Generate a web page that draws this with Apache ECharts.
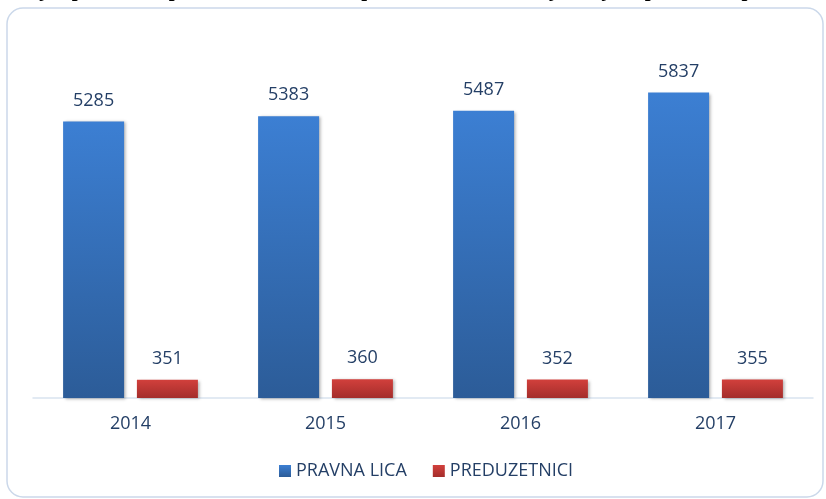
<!DOCTYPE html>
<html>
<head>
<meta charset="utf-8">
<script src="https://cdn.jsdelivr.net/npm/echarts@6/dist/echarts.min.js"></script>
<style>
  html, body { margin: 0; padding: 0; background: #fff; }
  #main { width: 826px; height: 499px; }
</style>
</head>
<body>
<div id="main"></div>
<script>
// podaci sa grafikona
var years = ['2014', '2015', '2016', '2017'];
var pravnaLica = [5285, 5383, 5487, 5837];
var preduzetnici = [351, 360, 352, 355];

var chart = echarts.init(document.getElementById('main'));

var labelStyle = {
  show: true,
  position: 'top',
  distance: 12,
  color: '#243f66',
  fontFamily: 'Open Sans',
  fontSize: 18
};

var option = {
  backgroundColor: '#fff',
  animation: false,
  graphic: [
    {
      // okvir grafikona
      type: 'rect',
      shape: { x: 7, y: 8, width: 816, height: 489, r: 16 },
      style: { fill: 'none', stroke: '#cbd8ea', lineWidth: 1.5 }
    },
    {
      // odsjeceni naslov iznad okvira
      type: 'text',
      left: -6,
      top: -20,
      style: {
        text: '- Broj zaposlenih u pravnim licima i kod preduzetnika, kretanje broja zaposlenih u periodu 2014 - 2017. godina i broj zaposlenih',
        font: 'bold 21px "Liberation Serif"',
        fill: '#000'
      }
    }
  ],
  legend: {
    bottom: 14,
    left: 274,
    itemWidth: 12,
    itemHeight: 12,
    itemGap: 26,
    icon: 'rect',
    textStyle: { color: '#243f66', fontFamily: 'Open Sans', fontSize: 18 },
    data: ['PRAVNA LICA', 'PREDUZETNICI']
  },
  grid: { left: 33, right: 13, top: 84, bottom: 101 },
  xAxis: {
    type: 'category',
    data: years,
    axisLine: { lineStyle: { color: '#d9e3f0', width: 1.5 } },
    axisTick: { show: false },
    axisLabel: { color: '#243f66', fontFamily: 'Open Sans', fontSize: 18, margin: 17 }
  },
  yAxis: {
    type: 'value',
    min: 0,
    max: 6000,
    show: false,
    splitLine: { show: false }
  },
  series: [
    {
      name: 'PRAVNA LICA',
      type: 'bar',
      data: pravnaLica,
      barWidth: 61,
      barGap: '21%',
      itemStyle: {
        color: new echarts.graphic.LinearGradient(0, 0, 0, 1, [
          { offset: 0, color: '#3c7fd3' },
          { offset: 1, color: '#2c5c98' }
        ]),
        shadowColor: 'rgba(0,0,0,0.3)',
        shadowBlur: 3,
        shadowOffsetX: 2,
        shadowOffsetY: 1
      },
      label: labelStyle
    },
    {
      name: 'PREDUZETNICI',
      type: 'bar',
      data: preduzetnici,
      barWidth: 61,
      itemStyle: {
        color: new echarts.graphic.LinearGradient(0, 0, 0, 1, [
          { offset: 0, color: '#d2403c' },
          { offset: 1, color: '#a42d2b' }
        ]),
        shadowColor: 'rgba(0,0,0,0.3)',
        shadowBlur: 3,
        shadowOffsetX: 2,
        shadowOffsetY: 1
      },
      label: labelStyle
    }
  ]
};

chart.setOption(option);
</script>
</body>
</html>
